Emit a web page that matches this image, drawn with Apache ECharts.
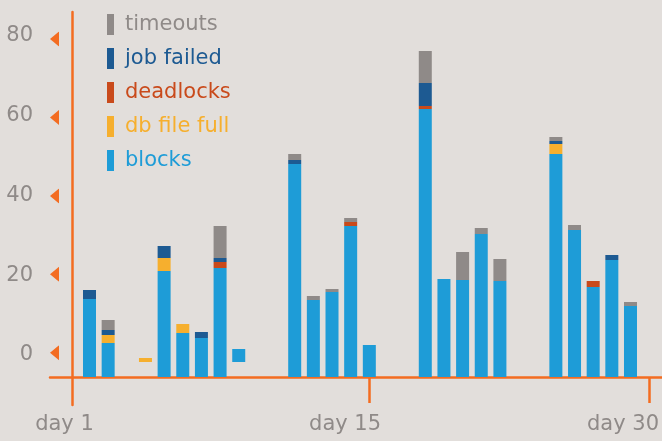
<!DOCTYPE html>
<html><head><meta charset="utf-8">
<script src="https://cdn.jsdelivr.net/npm/echarts@6/dist/echarts.min.js"></script>
<style>html,body{margin:0;padding:0;background:#e2dedb}#c{width:662px;height:441px}</style>
</head><body><div id="c"></div>
<script>
// ---- data ----
const days = [1,2,3,4,5,6,7,8,9,10,11,12,13,14,15,16,17,18,19,20,21,22,23,24,25,26,27,28,29,30];
// top of the "blocks" segment on the y scale (null = no blocks segment)
const blocks     = [13.72,2.50,null,null,20.86,5.05,3.77,21.62,0.97,null,null,48.14,13.46,15.50,32.33,1.99,null,null,62.16,18.82,18.56,30.29,18.31,null,null,50.69,31.31,16.78,23.66,11.93];
// bars that do not start at the floor (null = starts at the floor)
const barStart   = [null,null,null,-2.35,null,null,null,null,-2.35,null,null,null,null,null,null,null,null,null,null,null,null,null,null,null,null,null,null,null,null,null];
// stacked increments
const dbFileFull = [0,2.04,0,1.02,3.31,2.29,0,0,0,0,0,0,0,0,0,0,0,0,0,0,0,0,0,0,0,2.55,0,0,0,0];
const deadlocks  = [0,0,0,0,0,0,0,1.53,0,0,0,0,0,0,1.02,0,0,0,0.77,0,0,0,0,0,0,0,0,1.53,0,0];
const jobFailed  = [2.29,1.27,0,0,3.06,0,1.53,1.02,0,0,0,1.02,0,0,0,0,0,0,5.86,0,0,0,0,0,0,0.76,0,0,1.28,0];
const timeouts   = [0,2.55,0,0,0,0,0,8.16,0,0,0,1.53,1.02,0.77,1.02,0,0,0,8.16,0,7.14,1.53,5.61,0,0,1.02,1.27,0,0,1.02];
const yTicks = [0,20,40,60,80];
const xTickDays = [16,31];
const xLabels = ['day 1','day 15','day 30'];
const xLabelAt = [-0.34,14.70,29.60];

// ---- chart ----
const FLOOR = -6.17, TOP = 86.89;
const ORANGE = '#f36c21', GREY = '#8f8a88';
const COLORS = {blocks:'#1e9cd7', dbff:'#f6af2e', dead:'#c94a1b', job:'#1d5a92', to:'#8f8a88'};
const FONT = 'DejaVu Sans';
// bars are measured from the floor of the plot on a hidden axis
const start = days.map((d,i) => barStart[i] == null ? FLOOR : barStart[i]);
const lift = start.map(s => s - FLOOR);
const blockH = days.map((d,i) => blocks[i] == null ? 0 : blocks[i] - start[i]);
const tri = 'data:image/svg+xml;charset=utf-8,' + encodeURIComponent(
  "<svg xmlns='http://www.w3.org/2000/svg' width='9' height='15'><polygon points='0,7.5 9,0 9,15' fill='" + ORANGE + "'/></svg>");

function bar(name, data, color) {
  return {name, type:'bar', stack:'s', xAxisIndex:0, yAxisIndex:0,
    data: data, barWidth:13, itemStyle:{color}, silent:true};
}

const chart = echarts.init(document.getElementById('c'), null, {renderer:'canvas'});
chart.setOption({
  backgroundColor:'#e2dedb',
  animation:false,
  textStyle:{fontFamily:FONT},
  grid:[
    {left:80.17, width:559.65, top:12, bottom:64, outerBoundsMode:'none'},   // bars
    {left:72, width:10, top:12, bottom:36, outerBoundsMode:'none'},           // y spine + numbers
    {left:50, right:0, top:12, bottom:64, outerBoundsMode:'none'}             // x spine + markers
  ],
  legend:{
    orient:'vertical', left:107, top:14, padding:0, itemGap:13,
    itemWidth:7, itemHeight:21, icon:'rect', selectedMode:false,
    textStyle:{fontFamily:FONT, fontSize:21, padding:[0,0,0,6]},
    data:[
      {name:'timeouts', textStyle:{color:COLORS.to}},
      {name:'job failed', textStyle:{color:COLORS.job}},
      {name:'deadlocks', textStyle:{color:COLORS.dead}},
      {name:'db file full', textStyle:{color:COLORS.dbff}},
      {name:'blocks', textStyle:{color:COLORS.blocks}}
    ]
  },
  xAxis:[
    {gridIndex:0, type:'category', data:days, show:false, boundaryGap:true},
    {gridIndex:1, type:'value', show:false, min:0, max:1},
    {gridIndex:2, type:'value', min:-1.117, max:31.69,
      axisLine:{show:true, onZero:false, lineStyle:{color:ORANGE, width:2.5}},
      axisTick:{show:true, customValues:xTickDays, length:26, lineStyle:{color:ORANGE, width:2.5}},
      axisLabel:{customValues:xLabelAt, formatter:v => { const k = xLabelAt.indexOf(v); return k >= 0 ? xLabels[k] : ''; },
        margin:37, fontSize:21, color:GREY, fontFamily:FONT},
      splitLine:{show:false}}
  ],
  yAxis:[
    {gridIndex:0, type:'value', min:0, max:TOP - FLOOR, show:false,
      axisLine:{onZero:false}, splitLine:{show:false}},
    {gridIndex:1, type:'value', position:'left', min:-12.51, max:85.84,
      axisLine:{show:true, onZero:false, lineStyle:{color:ORANGE, width:2.5}},
      axisTick:{show:false}, splitLine:{show:false},
      axisLabel:{customValues:yTicks, margin:39, fontSize:21, color:GREY, fontFamily:FONT}},
    {gridIndex:2, type:'value', position:'left', min:FLOOR, max:TOP, offset:-22,
      axisLine:{show:false, onZero:false}, axisTick:{show:false}, splitLine:{show:false},
      axisLabel:{customValues:yTicks, margin:13, formatter:() => '{t|}',
        rich:{t:{width:9, height:15, backgroundColor:{image:tri}}}}}
  ],
  series:[
    {name:'_base', type:'bar', stack:'s', xAxisIndex:0, yAxisIndex:0, data:lift, barWidth:13,
      itemStyle:{color:'rgba(0,0,0,0)'}, silent:true},
    bar('blocks', blockH, COLORS.blocks),
    bar('db file full', dbFileFull, COLORS.dbff),
    bar('deadlocks', deadlocks, COLORS.dead),
    bar('job failed', jobFailed, COLORS.job),
    bar('timeouts', timeouts, COLORS.to)
  ]
});
</script></body></html>
